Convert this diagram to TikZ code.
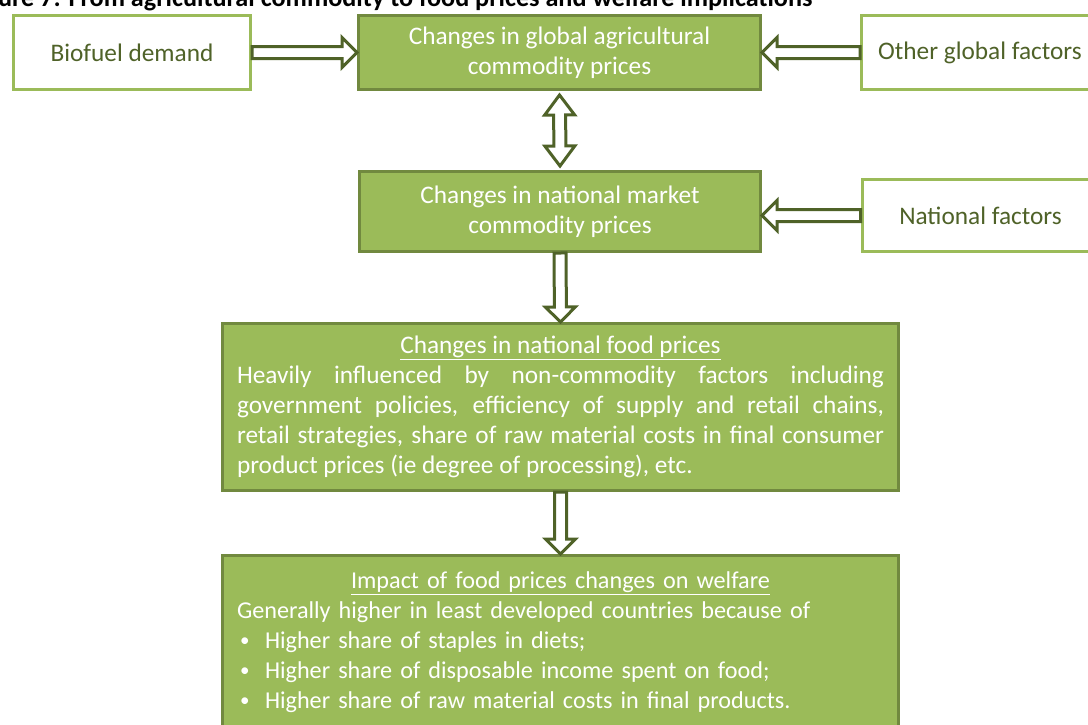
\documentclass[tikz,border=0pt]{standalone}
\usepackage{fontspec}
\setmainfont{Carlito}
\usepackage{tikz}
\usetikzlibrary{calc, positioning}

\definecolor{olive}{HTML}{9BBB59}
\definecolor{oliveline}{HTML}{71893F}
\definecolor{olivedark}{HTML}{4F6228}

\setlength{\parindent}{0pt}

\tikzset{
    greenbox/.style={draw=oliveline, line width=3pt, fill=olive, text=white,
        align=center, inner sep=0pt, font=\fontsize{25.3}{30}\selectfont},
    whitebox/.style={draw=olive, line width=3pt, fill=white, text=olivedark,
        align=center, inner sep=0pt, font=\fontsize{25.3}{30}\selectfont},
    textbox/.style={greenbox, inner xsep=14.5pt, text width=647pt},
    arrowline/.style={draw=olivedark, line width=3pt, fill=white, line join=miter},
    caption/.style={font=\bfseries\fontsize{26.2}{30}\selectfont, anchor=base east},
}

% hollow block arrows between two points
\newcommand{\blockarrow}[2]{%
    \coordinate (ba-head) at ($(#2)!15pt!(#1)$);
    \draw[arrowline] ($(#1)!6pt!90:(#2)$) -- ($(ba-head)!6pt!90:(#2)$)
        -- ($(ba-head)!15pt!90:(#2)$) -- (#2) -- ($(ba-head)!15pt!-90:(#2)$)
        -- ($(ba-head)!6pt!-90:(#2)$) -- ($(#1)!6pt!-90:(#2)$) -- cycle;}
\newcommand{\dblockarrow}[2]{%
    \coordinate (da-heada) at ($(#1)!20pt!(#2)$);
    \coordinate (da-headb) at ($(#2)!20pt!(#1)$);
    \draw[arrowline] (#1) -- ($(da-heada)!15pt!90:(#2)$) -- ($(da-heada)!6pt!90:(#2)$)
        -- ($(da-headb)!6pt!90:(#2)$) -- ($(da-headb)!15pt!90:(#2)$) -- (#2)
        -- ($(da-headb)!15pt!-90:(#2)$) -- ($(da-headb)!6pt!-90:(#2)$)
        -- ($(da-heada)!6pt!-90:(#2)$) -- ($(da-heada)!15pt!-90:(#2)$) -- cycle;}
\newcommand{\bul}{\makebox[28pt][l]{\hspace{3pt}\raisebox{2pt}{\fontsize{19}{19}\selectfont\textbullet}}}

\begin{document}
\begin{tikzpicture}[x=1pt, y=-1pt]
    \useasboundingbox (0,0) rectangle (1088,724);
    \clip (0,0) rectangle (1088,724);

    % caption, cut at the top edge
    \node[caption] (cap) at (816,6)
        {Figure 7: From agricultural commodity to food prices and welfare implications};

    % top row
    \node[whitebox, minimum width=237pt, minimum height=74pt] (bio) at (132,52.5) {Biofuel demand};
    \node[greenbox, minimum width=402pt, minimum height=74pt] (glob) at (559.5,52.5)
        {Changes in global agricultural\\commodity prices};
    \node[whitebox, minimum width=237pt, minimum height=74pt] (other) at (980,52.5) {Other global factors};

    % national level
    \node[greenbox, minimum width=401pt, minimum height=80pt] (natm) at (560,211.5)
        {Changes in national market\\commodity prices};
    \node[whitebox, minimum width=237pt, minimum height=72pt] (natf) at (980.5,215.5) {National factors};

    % food prices
    \node[textbox, align=justify, minimum height=167pt] (food) at (560.5,407)
        {\makebox[\linewidth]{\underline{Changes in national food prices}}\\
        Heavily influenced by non-commodity factors including\linebreak
        government policies, efficiency of supply and retail chains,\linebreak
        retail strategies, share of raw material costs in final consumer\linebreak
        product prices (ie degree of processing), etc.};

    % welfare
    \node[textbox, align=left, minimum height=173pt, font=\fontsize{24.2}{30}\selectfont] (welf) at (560.5,642)
        {\makebox[\linewidth]{\underline{Impact of food prices changes on welfare}}\\
        Generally higher in least developed countries because of\\
        \bul Higher share of staples in diets;\\
        \bul Higher share of disposable income spent on food;\\
        \bul Higher share of raw material costs in final products.};

    % arrows
    \blockarrow{bio.east}{glob.west}
    \blockarrow{other.west}{glob.east}
    \coordinate (gtop) at ($(glob.south)+(0,4)$);
    \coordinate (gbot) at ($(natm.north)+(0,-4)$);
    \dblockarrow{gtop}{gbot}
    \coordinate (natin) at (natm.east |- natf.west);
    \blockarrow{natf.west}{natin}
    \blockarrow{natm.south}{food.north}
    \blockarrow{food.south}{welf.north}
\end{tikzpicture}
\end{document}
